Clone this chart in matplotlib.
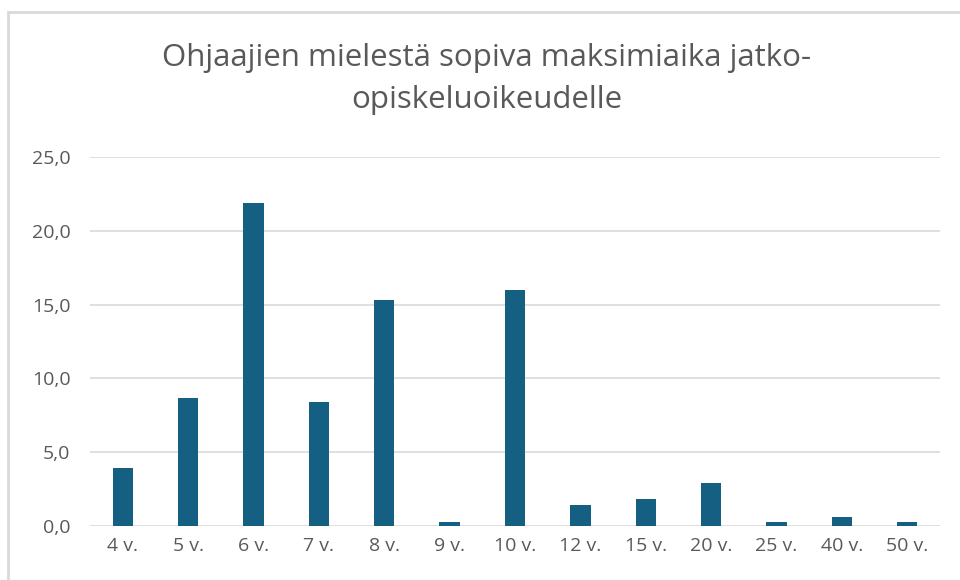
import matplotlib.pyplot as plt
from matplotlib.patches import Rectangle

labels = ["4 v.", "5 v.", "6 v.", "7 v.", "8 v.", "9 v.", "10 v.", "12 v.",
          "15 v.", "20 v.", "25 v.", "40 v.", "50 v."]
values = [3.9, 8.7, 21.9, 8.4, 15.3, 0.3, 16.0, 1.4, 1.8, 2.9, 0.3, 0.6, 0.3]
yticks = [0, 5, 10, 15, 20, 25]

plt.rcParams['font.family'] = ['Open Sans', 'DejaVu Sans']
txt = "#595959"

fig = plt.figure(figsize=(9.6, 5.8), dpi=100)
fig.patches.append(Rectangle((8 / 960, -0.1), 1.2, 1 - 12 / 580 + 0.1,
                             transform=fig.transFigure, fill=False,
                             edgecolor="#d9d9d9", lw=2))

ax = fig.add_axes([90 / 960, 1 - 526 / 580, 850 / 960, (526 - 157) / 580])
x = range(len(labels))
ax.bar(x, values, width=0.31, color="#156082", zorder=3)

ax.set_xlim(-0.5, len(labels) - 0.5)
ax.set_ylim(0, 25)
ax.set_yticks(yticks)
ax.set_yticklabels([f"{v:.1f}".replace(".", ",") for v in yticks])
ax.set_xticks(list(x))
ax.set_xticklabels(labels)
ax.grid(axis="y", color="#d9d9d9", lw=1.2, zorder=0)
for s in ax.spines.values():
    s.set_visible(False)
ax.tick_params(length=0, labelsize=14, labelcolor=txt)
ax.tick_params(axis="x", pad=8)
ax.tick_params(axis="y", pad=14)

fig.text(487 / 960, 1 - 79 / 580,
         "Ohjaajien mielestä sopiva maksimiaika jatko-\nopiskeluoikeudelle",
         ha="center", va="center", fontsize=22.5, color=txt, linespacing=1.5)

fig.savefig("out.png", dpi=100)
